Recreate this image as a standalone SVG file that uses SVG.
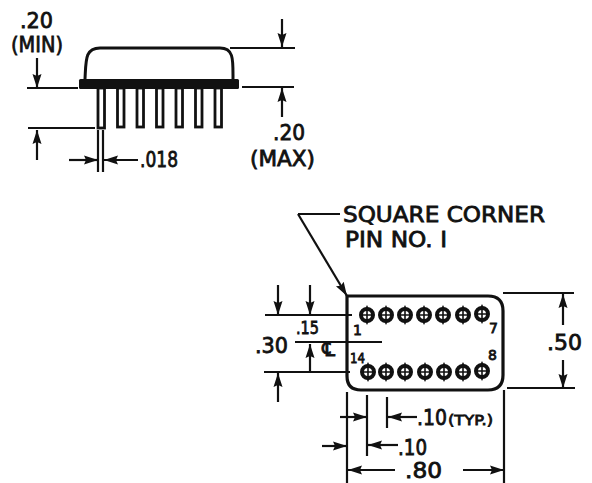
<svg xmlns="http://www.w3.org/2000/svg" xmlns:xlink="http://www.w3.org/1999/xlink" width="592" height="483" viewBox="0 0 592 483">
<style>
.l{fill:none;stroke:#111;stroke-width:2.2}
.a{fill:none;stroke:#111;stroke-width:2.2;marker-end:url(#ah)}
.p{fill:#fff;stroke:#111;stroke-width:2.8}
.h{fill:#fff;stroke:#111;stroke-width:4}
.x{fill:none;stroke:#111;stroke-width:1.6}
text{font-family:"DejaVu Sans",sans-serif;fill:#111;stroke:#111;stroke-width:.8}
.t{font-size:21px}
.s{font-size:14px}
</style>
<defs>
<marker id="ah" markerUnits="userSpaceOnUse" markerWidth="16" markerHeight="12" refX="14" refY="6" orient="auto"><path d="M0 1.500L14 6L0 10.500L2 6Z" fill="#111"/></marker>
<g id="hole"><circle r="6" class="h"/><path d="M0-10L2-6H-2ZM0 10L2 6H-2Z" fill="#111"/><path d="M0-6V6M-7 0H7" class="x"/></g>
</defs>
<rect width="592" height="483" fill="#fff"/>
<g id="side-view">
<path d="M85 79C86 60 85 48 100 48H220C234 48 233 60 233 79" fill="none" stroke="#111" stroke-width="3"/>
<g class="p">
<rect x="98" y="88" width="6.500" height="40"/><rect x="117.500" y="88" width="6.500" height="39"/><rect x="137" y="88" width="6.500" height="39"/><rect x="156.500" y="88" width="6.500" height="39"/><rect x="176" y="88" width="6.500" height="39"/><rect x="195.500" y="88" width="6.500" height="39"/><rect x="215" y="88" width="6.500" height="39"/>
</g>
<rect x="79" y="79" width="160" height="10" rx="1.500" fill="#111"/>
</g>
<g id="top-view">
<path d="M347 296H488Q503 296 503 311V375Q503 390 488 390H361Q347 390 347 376Z" fill="none" stroke="#111" stroke-width="3.200"/>
<use xlink:href="#hole" x="367" y="315"/><use xlink:href="#hole" x="386" y="315"/><use xlink:href="#hole" x="405" y="315"/><use xlink:href="#hole" x="424" y="315"/><use xlink:href="#hole" x="443" y="315"/><use xlink:href="#hole" x="463" y="315"/><use xlink:href="#hole" x="482" y="314"/>
<use xlink:href="#hole" x="368" y="372"/><use xlink:href="#hole" x="386" y="372"/><use xlink:href="#hole" x="405" y="372"/><use xlink:href="#hole" x="425" y="372"/><use xlink:href="#hole" x="444" y="372"/><use xlink:href="#hole" x="463" y="372"/><use xlink:href="#hole" x="482" y="371"/>
</g>
<g id="connectors">
<path class="l" d="M230 48H295M242 87H294M27 88H78M28 128H95M98 130V172M103 130V172"/>
<path class="a" d="M282 19V47"/><path class="a" d="M282 117V88"/><path class="a" d="M37 58V88"/><path class="a" d="M37 160V130"/>
<path class="a" d="M69 160H98"/><path class="a" d="M138 160H104"/>
<path class="l" d="M340 214H298"/><path class="a" d="M298 214L347 296"/>
<path class="l" d="M265 315H352M264 372H350M295 342H382M503 293H574M507 388H575"/>
<path class="a" d="M278 285V315"/><path class="a" d="M310 285V315"/><path class="a" d="M310 372V344"/><path class="a" d="M278 402V373"/>
<path class="a" d="M563 325V294"/><path class="a" d="M563 360V388"/>
<path class="l" d="M347 392V483M367 395V456M387 397V428M504 390V483"/>
<path class="a" d="M340 417H367"/><path class="a" d="M417 417H388"/>
<path class="a" d="M322 446H347"/><path class="a" d="M398 445H368"/>
<path class="a" d="M395 470H348"/><path class="a" d="M463 470H504"/>
</g>
<g id="labels">
<text class="t" x="20" y="28" textLength="33" lengthAdjust="spacingAndGlyphs">.20</text>
<text class="t" x="11" y="52" textLength="52" lengthAdjust="spacingAndGlyphs">(MIN)</text>
<text class="t" x="140" y="167" textLength="38" lengthAdjust="spacingAndGlyphs">.018</text>
<text class="t" x="273" y="140" textLength="32" lengthAdjust="spacingAndGlyphs">.20</text>
<text class="t" x="250" y="166" textLength="65" lengthAdjust="spacingAndGlyphs">(MAX)</text>
<text class="t" x="343" y="222" textLength="202" lengthAdjust="spacingAndGlyphs">SQUARE CORNER</text>
<text class="t" x="345" y="247" textLength="102" lengthAdjust="spacingAndGlyphs">PIN NO. I</text>
<text class="t" x="255" y="353" textLength="33" lengthAdjust="spacingAndGlyphs">.30</text>
<text x="296" y="334" font-size="17" textLength="23" lengthAdjust="spacingAndGlyphs">.15</text>
<text x="322" y="356" font-size="20">℄</text>
<text class="t" x="547" y="350" textLength="35" lengthAdjust="spacingAndGlyphs">.50</text>
<text class="t" x="417" y="425" textLength="30" lengthAdjust="spacingAndGlyphs">.10</text>
<text class="s" x="448" y="425" textLength="45" lengthAdjust="spacingAndGlyphs">(TYP.)</text>
<text class="t" x="398" y="455" textLength="29" lengthAdjust="spacingAndGlyphs">.10</text>
<text class="t" x="405" y="478" textLength="37" lengthAdjust="spacingAndGlyphs">.80</text>
<text class="s" x="353" y="335">1</text>
<text class="s" x="489" y="333">7</text>
<text class="s" x="350" y="363" textLength="15" lengthAdjust="spacingAndGlyphs">14</text>
<text class="s" x="488" y="360">8</text>
</g>
</svg>
